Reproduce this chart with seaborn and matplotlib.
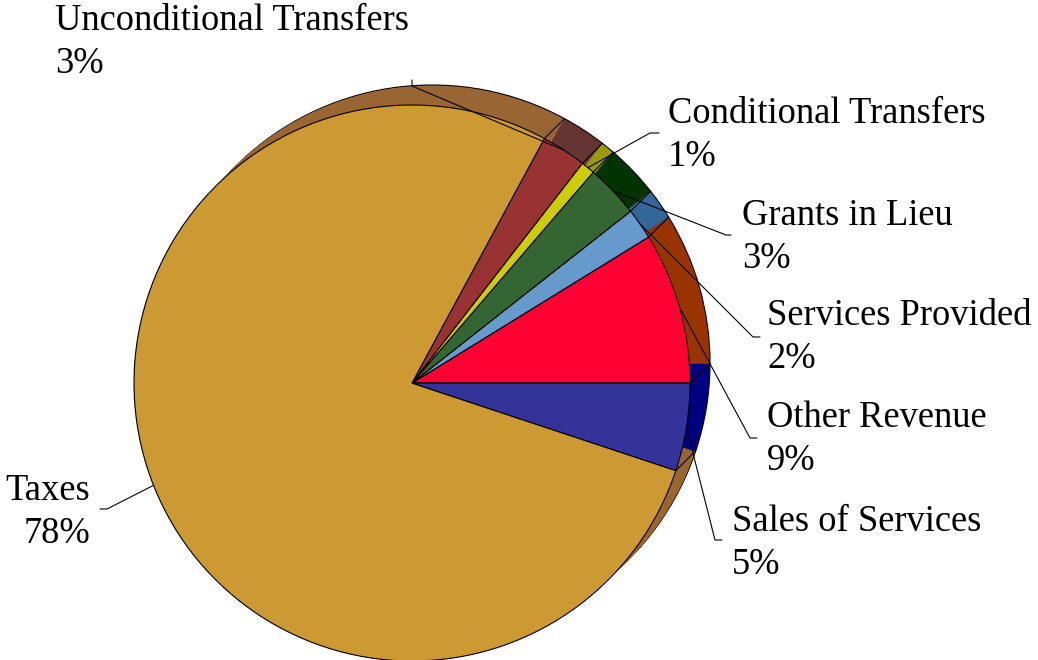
import numpy as np
import matplotlib
matplotlib.use("Agg")
import matplotlib.pyplot as plt
import seaborn as sns

# slices, counter-clockwise from 3 o'clock
categories = ["Other Revenue", "Services Provided", "Grants in Lieu",
              "Conditional Transfers", "Unconditional Transfers", "Taxes",
              "Sales of Services"]
shares = [8.8, 1.8, 3.1, 0.8, 2.6, 77.8, 5.1]

top_colors = ["#FF0033", "#6699CC", "#336633", "#CCCC00", "#993333", "#CC9933", "#333399"]
side_colors = ["#993300", "#336699", "#003300", "#999900", "#663333", "#996633", "#000080"]

# layout in picture pixels (x right, y down); y is the baseline of the last line
W, H = 1038, 660
label_xy = [(767, 470), (767, 368), (742, 268), (668, 166), (55, 73), (90, 543), (732, 574)]
label_ha = ["left", "left", "left", "left", "left", "right", "left"]
leader_knee = [[(757, 438), (750, 438)], [(760, 337), (753, 337)], [(731, 235), (726, 235)],
               [(659, 133), (650, 133)], [(412, 80), (412, 86)], [(100, 509), (107, 509)],
               [(722, 540), (715, 540)]]

sns.set_theme(style="white")
plt.rcParams["font.family"] = ["Liberation Serif", "DejaVu Serif"]

fig = plt.figure(figsize=(W / 100, H / 100), dpi=100)
ax = fig.add_axes([0, 0, 1, 1])

cx, cy, R = 412, H - 383, 278
dx, dy = 20, 20  # depth of the extruded side

# back face with outline, then the side body, then the top face
ax.pie(shares, colors=side_colors, radius=R, center=(cx + dx, cy + dy), startangle=0,
       wedgeprops=dict(edgecolor="black", linewidth=0.8), frame=True)
for k in np.linspace(0, 0.96, 40):
    ax.pie(shares, colors=side_colors, radius=R, center=(cx + k * dx, cy + k * dy),
           startangle=0, wedgeprops=dict(linewidth=0), frame=True)

edges = np.concatenate([[0], np.cumsum(shares)]) / np.sum(shares) * 360
for a in edges[:-1]:
    if -45 < ((a + 180) % 360) - 180 < 135:
        t = np.deg2rad(a)
        x0, y0 = cx + R * np.cos(t), cy + R * np.sin(t)
        ax.plot([x0, x0 + dx], [y0, y0 + dy], color="black", lw=0.8)

ax.pie(shares, colors=top_colors, radius=R, center=(cx, cy), startangle=0,
       wedgeprops=dict(edgecolor="black", linewidth=0.8), frame=True)

# labels with leader lines to the middle of each rim
mids = (edges[:-1] + edges[1:]) / 2
for name, v, (lx, ly), ha, knee, m in zip(categories, shares, label_xy, label_ha,
                                          leader_knee, mids):
    ax.text(lx, H - ly, f"{name}\n{round(v)}%", ha=ha, va="baseline",
            fontsize=26.3, linespacing=1.32, color="black", multialignment=ha)
    t = np.deg2rad(m)
    lx_ = [p[0] for p in knee] + [cx + R * np.cos(t)]
    ly_ = [H - p[1] for p in knee] + [cy + R * np.sin(t)]
    ax.plot(lx_, ly_, color="black", lw=0.8)

ax.set_xlim(0, W)
ax.set_ylim(0, H)
ax.set_aspect("equal")
ax.axis("off")
fig.savefig("out.png", dpi=100, facecolor="white")
